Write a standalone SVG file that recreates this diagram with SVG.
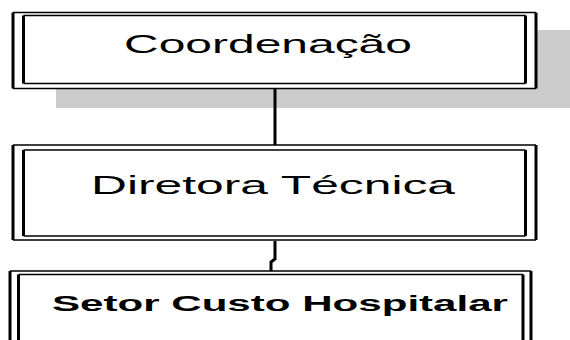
<svg xmlns="http://www.w3.org/2000/svg" width="570" height="340" viewBox="0 0 570 340">
<style>
.h{stroke:#000;stroke-width:1.6;fill:none}
.v{stroke:#000;stroke-width:3;fill:none}
.t{font-family:"Liberation Sans",Arial,sans-serif;fill:#000}
.conn{stroke:#000;stroke-width:3;fill:none}
</style>
<rect x="56" y="30" width="514" height="78" fill="#cccccc"/>
<g id="node-coordenacao">
<rect x="13" y="12.5" width="523" height="76" fill="#fff"/>
<path class="h" d="M13 12.5H536M13 88.5H536M23.5 15.5H525.5M23.5 83.5H525.5"/>
<path class="v" d="M13 12.5V88.5M536 12.5V88.5M23.5 15.5V83.5M525.5 15.5V83.5"/>
<text class="t" x="124" y="52.5" font-size="25" textLength="288" lengthAdjust="spacingAndGlyphs">Coordenação</text>
</g>
<g id="node-diretora">
<rect x="13" y="145" width="523" height="95" fill="#fff"/>
<path class="h" d="M13 145H536M13 240H536M23.5 150H525.5M23.5 236H525.5"/>
<path class="v" d="M13 145V240M536 145V240M23.5 150V236M525.5 150V236"/>
<text class="t" x="91" y="194" font-size="25" textLength="364" lengthAdjust="spacingAndGlyphs">Diretora Técnica</text>
</g>
<g id="node-setor">
<rect x="10" y="271" width="521" height="75" fill="#fff"/>
<path class="h" d="M10 271H531M18.5 274.5H523"/>
<path class="v" d="M10 271V345M531 271V345M18.5 274.5V345M523 274.5V345"/>
<text class="t" x="52" y="311" font-size="22" font-weight="bold" textLength="456" lengthAdjust="spacingAndGlyphs">Setor Custo Hospitalar</text>
</g>
<g id="connectors">
<path class="conn" d="M275 89V145"/>
<path class="conn" d="M275 241V259L271 262V271"/>
</g>
</svg>
